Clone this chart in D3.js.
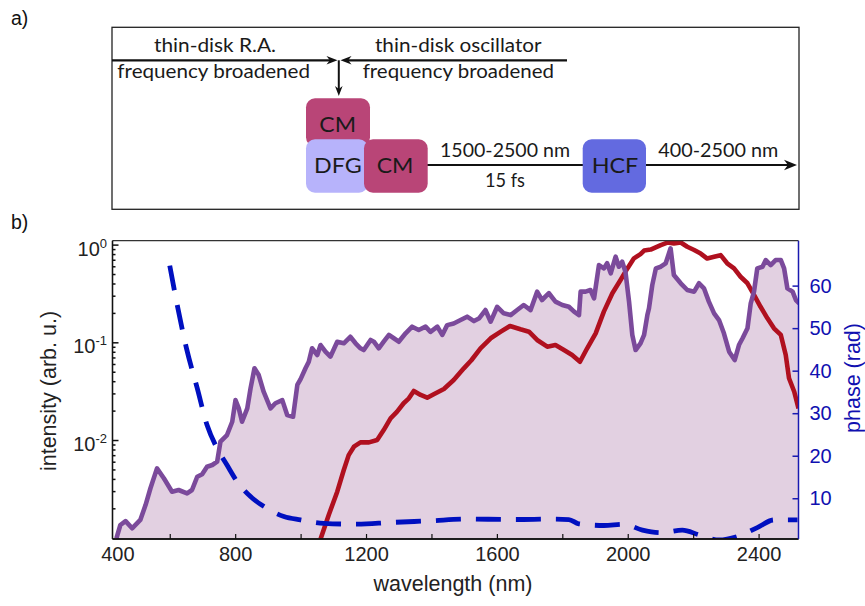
<!DOCTYPE html>
<html><head><meta charset="utf-8">
<script src="https://cdn.jsdelivr.net/npm/d3@7"></script>
<style>
html,body{margin:0;padding:0;background:#fff;}
svg{display:block;}
</style></head>
<body>
<svg id="c" width="865" height="606"></svg>
<script>
// ---------------- data ----------------
const purpleNm = [437,449,465,485,510,526,541,561,582,607,627,653,668,684,699,714,730,745,755,775,791,801,811,821,837,847,859,872,887,908,923,944,959,977,990,1000,1015,1025,1035,1051,1061,1076,1091,1112,1132,1152,1168,1183,1193,1214,1224,1239,1254,1270,1285,1300,1321,1341,1361,1382,1397,1418,1433,1448,1468,1489,1509,1530,1545,1565,1581,1601,1621,1642,1662,1682,1703,1723,1738,1759,1779,1800,1820,1836,1851,1856,1871,1886,1897,1912,1927,1937,1948,1963,1973,1983,1993,2004,2014,2024,2039,2050,2060,2065,2075,2086,2101,2116,2131,2141,2162,2182,2203,2218,2233,2248,2264,2279,2294,2310,2327,2340,2351,2366,2376,2386,2396,2412,2422,2437,2452,2468,2478,2488,2504,2514,2524];
const purpleInt = [0.000986,0.00135,0.00148,0.00125,0.00152,0.00216,0.00321,0.00513,0.00406,0.00296,0.00308,0.00284,0.00308,0.00421,0.00446,0.00533,0.00555,0.0060,0.00962,0.01125,0.01538,0.02564,0.02109,0.01538,0.02109,0.0338,0.0542,0.0462,0.0312,0.0211,0.0238,0.0256,0.0180,0.0173,0.0366,0.042,0.0542,0.0632,0.0869,0.0741,0.0938,0.0802,0.0713,0.1014,0.0977,0.114,0.0977,0.0869,0.0834,0.1057,0.1014,0.0869,0.1014,0.119,0.110,0.1014,0.1236,0.1445,0.1337,0.1445,0.128,0.1445,0.119,0.150,0.156,0.169,0.183,0.165,0.175,0.214,0.1626,0.231,0.198,0.190,0.214,0.241,0.214,0.330,0.271,0.318,0.261,0.241,0.231,0.206,0.190,0.330,0.330,0.343,0.282,0.618,0.571,0.644,0.508,0.752,0.594,0.668,0.528,0.261,0.119,0.0834,0.0977,0.119,0.190,0.223,0.385,0.571,0.594,0.644,0.916,0.489,0.402,0.343,0.330,0.402,0.357,0.261,0.198,0.169,0.1236,0.0802,0.0659,0.0938,0.110,0.139,0.251,0.330,0.571,0.594,0.695,0.618,0.695,0.695,0.571,0.357,0.330,0.271,0.251];

const redNm = [1061,1086,1112,1132,1147,1163,1183,1209,1234,1254,1275,1295,1315,1331,1346,1367,1387,1407,1438,1468,1499,1522,1550,1581,1612,1640,1672,1698,1723,1754,1779,1805,1830,1854,1876,1902,1927,1953,1978,1999,2019,2039,2050,2070,2101,2121,2141,2162,2182,2203,2223,2243,2264,2284,2304,2325,2345,2366,2386,2406,2427,2447,2468,2483,2493,2509,2522];
const redInt = [0.00097,0.00171,0.00296,0.00493,0.00701,0.00855,0.00946,0.00946,0.0100,0.01265,0.01667,0.0195,0.0238,0.0267,0.0318,0.0289,0.0271,0.0294,0.0333,0.0411,0.0542,0.0655,0.0869,0.110,0.1285,0.147,0.136,0.1285,0.1057,0.0902,0.0938,0.0834,0.0741,0.0632,0.0869,0.1236,0.206,0.318,0.435,0.571,0.724,0.80,0.87,0.89,0.99,1.05,1.03,1.05,0.95,0.88,0.81,0.72,0.75,0.78,0.644,0.571,0.469,0.402,0.305,0.231,0.176,0.139,0.119,0.0741,0.0429,0.0312,0.0211];

const phaseNm = [600,623,651,684,714,745,775,806,847,898,949,1000,1071,1173,1275,1397,1510,1652,1775,1820,1850,1927,1988,2045,2101,2167,2218,2279,2335,2396,2447,2519];
const phaseRad = [64.7,55.4,45.3,35.9,27.2,21.7,17.8,13.9,10.4,7.6,5.7,4.9,4.1,3.9,4.3,4.7,5.1,5.0,5.1,5.0,4.0,3.6,3.9,2.5,1.9,2.5,1.4,0.2,1.0,3.1,4.9,4.9];

const xTickLabels = [400,800,1200,1600,2000,2400];
const xMinorTicks = [600,1000,1400,1800,2200];
const yMajorTicks = [0.01,0.1,1];
const yTickExp = ["-2","-1","0"];
const phaseTicks = [10,20,30,40,50,60];

// ---------------- layout ----------------
const svg = d3.select("#c");
const L = 112.5, R = 798.5, T = 240.7, B = 539;
const x = d3.scaleLinear().domain([425, 2522]).range([L, R]);
const y = d3.scaleLog().domain([Math.pow(10,-3.013), Math.pow(10,0.04)]).range([B, T]);
const yp = d3.scaleLinear().domain([0.42, 70.56]).range([B, T]);

const AX = "Liberation Sans, Arial, Helvetica, sans-serif";
const GF = "Lato, 'Open Sans', sans-serif";

// ---------- panel labels ----------
svg.append("text").attr("x",11).attr("y",25).attr("font-family",AX).attr("font-size",19.5).attr("fill","#111").text("a)");
svg.append("text").attr("x",11).attr("y",229).attr("font-family",AX).attr("font-size",19.5).attr("fill","#111").text("b)");

// ---------- diagram (a) ----------
const dg = svg.append("g");
dg.append("rect").attr("x",112).attr("y",27.3).attr("width",687).attr("height",182)
  .attr("fill","none").attr("stroke","#222").attr("stroke-width",1.3);

function arrowHead(tx, ty, dir, len, hw) {
  const [dx, dy] = dir; const px = -dy, py = dx;
  const bx = tx - dx*len, by = ty - dy*len;
  const nx = tx - dx*len*0.7, ny = ty - dy*len*0.7;
  return `M${tx},${ty}L${bx+px*hw},${by+py*hw}L${nx},${ny}L${bx-px*hw},${by-py*hw}Z`;
}
const lc = "#111";
dg.append("line").attr("x1",112).attr("y1",60.3).attr("x2",332).attr("y2",60.3).attr("stroke",lc).attr("stroke-width",2.2);
dg.append("path").attr("d",arrowHead(337.5,60.3,[1,0],11,4.2)).attr("fill",lc);
dg.append("line").attr("x1",345).attr("y1",60.3).attr("x2",567).attr("y2",60.3).attr("stroke",lc).attr("stroke-width",2.2);
dg.append("path").attr("d",arrowHead(340.5,60.3,[-1,0],11,4.2)).attr("fill",lc);
dg.append("line").attr("x1",338.8).attr("y1",60.3).attr("x2",338.8).attr("y2",90).attr("stroke",lc).attr("stroke-width",2);
dg.append("path").attr("d",arrowHead(338.8,96,[0,1],10,3.8)).attr("fill",lc);
dg.append("line").attr("x1",427).attr("y1",165).attr("x2",790).attr("y2",165).attr("stroke",lc).attr("stroke-width",2.2);
dg.append("path").attr("d",arrowHead(797,165,[1,0],13,5.2)).attr("fill",lc);

const boxes = [
  {x:306, y:98.3, w:64, h:48, c:"#b94577"},
  {x:306, y:139.3, w:62, h:53.4, c:"#b7b3fb"},
  {x:364, y:139.3, w:63.7, h:53.4, c:"#b94577"},
  {x:582.7, y:139.3, w:63.3, h:53.4, c:"#636ae0"}
];
boxes.forEach(b => dg.append("rect").attr("x",b.x).attr("y",b.y).attr("width",b.w).attr("height",b.h)
  .attr("rx",9).attr("ry",9).attr("fill",b.c));

const dtexts = [
  {t:"thin-disk R.A.", cx:215, y:51.7, w:122, fs:18.5},
  {t:"frequency broadened", cx:213.7, y:78.3, w:192.7, fs:18.5},
  {t:"thin-disk oscillator", cx:458.3, y:51.7, w:166.7, fs:18.5},
  {t:"frequency broadened", cx:458.3, y:78.3, w:191.3, fs:18.5},
  {t:"CM", cx:337.7, y:131.7, w:36.7, fs:20.5},
  {t:"DFG", cx:337.8, y:173.3, w:47.7, fs:20.5},
  {t:"CM", cx:395, y:173.3, w:36.7, fs:20.5},
  {t:"HCF", cx:615, y:172.7, w:46.7, fs:20.5},
  {t:"1500-2500 nm", cx:505, y:157.3, w:130, fs:18.5},
  {t:"15 fs", cx:505, y:187.3, w:40, fs:18.5},
  {t:"400-2500 nm", cx:718.3, y:157.3, w:120, fs:18.5}
];
dtexts.forEach(d => dg.append("text").attr("x",d.cx - d.w/2).attr("y",d.y)
  .attr("font-family",GF).attr("font-size",d.fs).attr("fill","#1a1a1a")
  .attr("textLength",d.w).attr("lengthAdjust","spacingAndGlyphs").text(d.t));

// ---------- plot (b) ----------
svg.append("defs").append("clipPath").attr("id","clip").append("rect")
  .attr("x",L).attr("y",T).attr("width",R-L).attr("height",B-T);

const pg = svg.append("g").attr("clip-path","url(#clip)");
const purple = purpleNm.map((n,i)=>[n,purpleInt[i]]);
const red = redNm.map((n,i)=>[n,redInt[i]]);
const phase = phaseNm.map((n,i)=>[n,phaseRad[i]]);

pg.append("path").datum(purple)
  .attr("d", d3.area().x(d=>x(d[0])).y0(B+5).y1(d=>y(d[1])))
  .attr("fill","#e2d0e1");
pg.append("path").datum(red)
  .attr("d", d3.line().x(d=>x(d[0])).y(d=>y(d[1])))
  .attr("fill","none").attr("stroke","#b0101f").attr("stroke-width",4.6).attr("stroke-linejoin","round");
pg.append("path").datum(purple)
  .attr("d", d3.line().x(d=>x(d[0])).y(d=>y(d[1])))
  .attr("fill","none").attr("stroke","#7b4a9b").attr("stroke-width",4.6).attr("stroke-linejoin","round");
pg.append("path").datum(phase)
  .attr("d", d3.line().curve(d3.curveMonotoneX).x(d=>x(d[0])).y(d=>yp(d[1])))
  .attr("fill","none").attr("stroke","#0010c0").attr("stroke-width",4.8).attr("stroke-dasharray","25,15");

// frame top
svg.append("line").attr("x1",L).attr("x2",R).attr("y1",T).attr("y2",T).attr("stroke","#333").attr("stroke-width",1.3);

// bottom axis
const xa = svg.append("g").attr("transform",`translate(0,${B})`)
  .call(d3.axisBottom(x).tickValues(xTickLabels).tickSize(-5).tickPadding(8).tickSizeOuter(0).tickFormat(d3.format("d")));
const xm = svg.append("g").attr("transform",`translate(0,${B})`)
  .call(d3.axisBottom(x).tickValues(xMinorTicks).tickSize(-5).tickFormat("").tickSizeOuter(0));
[xa,xm].forEach(g=>{
  g.select(".domain").attr("stroke","#111").attr("stroke-width",1.3).attr("d",`M${L},0H${R}`);
  g.selectAll(".tick line").attr("stroke","#111").attr("stroke-width",1.2);
});
xa.selectAll(".tick text").attr("font-family",AX).attr("font-size",20).attr("fill","#222");
xa.selectAll(".tick").filter(d=>d<425).select("line").remove();
xa.selectAll(".tick").filter(d=>d<425).select("text").attr("x",13);

// left axis
const minorVals = [];
[-3,-2,-1].forEach(e=>{ for(let k=2;k<=9;k++){ const v=k*Math.pow(10,e); if (v>=y.domain()[0] && v<=y.domain()[1]) minorVals.push(v);} });
const ym = svg.append("g").attr("transform",`translate(${L},0)`)
  .call(d3.axisLeft(y).tickValues(minorVals).tickSize(-3).tickFormat("").tickSizeOuter(0));
const ya = svg.append("g").attr("transform",`translate(${L},0)`)
  .call(d3.axisLeft(y).tickValues(yMajorTicks).tickSize(-6).tickFormat("").tickSizeOuter(0));
[ya,ym].forEach(g=>{
  g.select(".domain").attr("stroke","#111").attr("stroke-width",1.3).attr("d",`M0,${T}V${B}`);
  g.selectAll(".tick line").attr("stroke","#111").attr("stroke-width",1.5);
});
ya.selectAll(".tick").each(function(d,i){
  const t = d3.select(this).append("text").attr("x",-5.5).attr("y",10.5)
    .attr("text-anchor","end").attr("font-family",AX).attr("font-size",20).attr("fill","#222");
  t.append("tspan").text("10");
  t.append("tspan").attr("font-size",13).attr("dy",-8).text(yTickExp[i]);
});

// right axis
const blueAx = "#1a1ab0";
const yr = svg.append("g").attr("transform",`translate(${R},0)`)
  .call(d3.axisRight(yp).tickValues(phaseTicks).tickSize(-6).tickPadding(11).tickSizeOuter(0));
yr.select(".domain").attr("stroke",blueAx).attr("stroke-width",1.5).attr("d",`M0,${T}V${B}`);
yr.selectAll(".tick line").attr("stroke",blueAx).attr("stroke-width",1.5);
yr.selectAll(".tick text").attr("font-family",AX).attr("font-size",20).attr("fill","#1010b0");

// axis titles
svg.append("text").attr("transform","translate(55.5,391) rotate(-90)").attr("text-anchor","middle")
  .attr("font-family",AX).attr("font-size",21.5).attr("fill","#222").text("intensity (arb. u.)");
svg.append("text").attr("transform","translate(859.5,378) rotate(-90)").attr("text-anchor","middle")
  .attr("font-family",AX).attr("font-size",21.5).attr("fill","#1010b0").text("phase (rad)");
svg.append("text").attr("x",453).attr("y",591).attr("text-anchor","middle")
  .attr("font-family",AX).attr("font-size",21.5).attr("fill","#222").text("wavelength (nm)");
</script>
</body></html>
